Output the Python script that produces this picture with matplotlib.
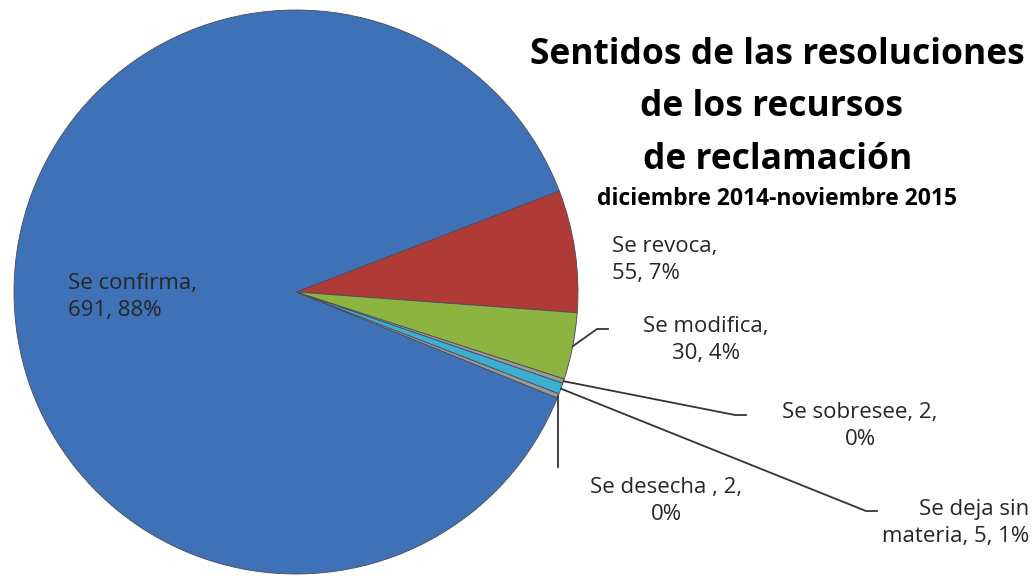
import numpy as np
import matplotlib
matplotlib.use("Agg")
import matplotlib.pyplot as plt

categories = ["Se revoca", "Se modifica", "Se sobresee", "Se deja sin materia", "Se desecha", "Se confirma"]
values = [55, 30, 2, 5, 2, 691]
percents = ["7%", "4%", "0%", "1%", "0%", "88%"]
label_texts = ["Se revoca,\n55, 7%", "Se modifica,\n30, 4%", "Se sobresee, 2,\n0%",
               "Se deja sin\nmateria, 5, 1%", "Se desecha , 2,\n0%", "Se confirma,\n691, 88%"]
colors = ["#B03A36", "#8DB440", "#9A9A9A", "#3AAFD2", "#9A9A9A", "#3F71B6"]

W, H = 1032, 576
fig = plt.figure(figsize=(W / 100, H / 100), dpi=100)
ax = fig.add_axes([0, 0, 1, 1])

def Y(py):
    return H - py

cx, cy, R = 296, Y(292), 282
wedges, _ = ax.pie(values, colors=colors, startangle=21, counterclock=False,
                   center=(cx, cy), radius=R, frame=True,
                   wedgeprops=dict(edgecolor="#4a4a5a", linewidth=0.6))
ax.set_xlim(0, W)
ax.set_ylim(0, H)
ax.set_aspect("equal")
ax.axis("off")

FONT = "Open Sans"
lab_kw = dict(fontsize=16, family=FONT, color="#262626", linespacing=1.35)

def edge_point(w, frac=1.0):
    mid = np.deg2rad((w.theta1 + w.theta2) / 2)
    return cx + R * frac * np.cos(mid), cy + R * frac * np.sin(mid)

# labels
ax.text(68, Y(297), label_texts[5], ha="left", va="center", **lab_kw)
ax.text(612, Y(260), label_texts[0], ha="left", va="center", **lab_kw)
ax.text(706, Y(340), label_texts[1], ha="center", va="center", **lab_kw)
ax.text(860, Y(426), label_texts[2], ha="center", va="center", **lab_kw)
ax.text(666, Y(501), label_texts[4], ha="center", va="center", **lab_kw)
ax.text(1029, Y(523), label_texts[3], ha="right", va="center", multialignment="right", **lab_kw)

# leader lines
lc = dict(color="#333333", lw=1.3)
x0, y0 = edge_point(wedges[1])
ax.plot([x0, 597, 608], [y0, Y(329), Y(329)], **lc)
x0, y0 = edge_point(wedges[2])
ax.plot([x0, 735, 746], [y0, Y(415), Y(415)], **lc)
x0, y0 = edge_point(wedges[3])
ax.plot([x0, 866, 877], [y0, Y(511), Y(511)], **lc)
x0, y0 = edge_point(wedges[4])
ax.plot([x0, x0], [y0, Y(467)], **lc)

# title
tkw = dict(family=FONT, fontweight="bold", color="black", ha="center", va="center")
ax.text(777, Y(55), "Sentidos de las resoluciones", fontsize=25.5, **tkw)
ax.text(772, Y(107), "de los recursos", fontsize=25.5, **tkw)
ax.text(778, Y(160), "de reclamación", fontsize=25.5, **tkw)
ax.text(777, Y(199), "diciembre 2014-noviembre 2015", fontsize=16.5, **tkw)

fig.savefig("out.png", dpi=100)
